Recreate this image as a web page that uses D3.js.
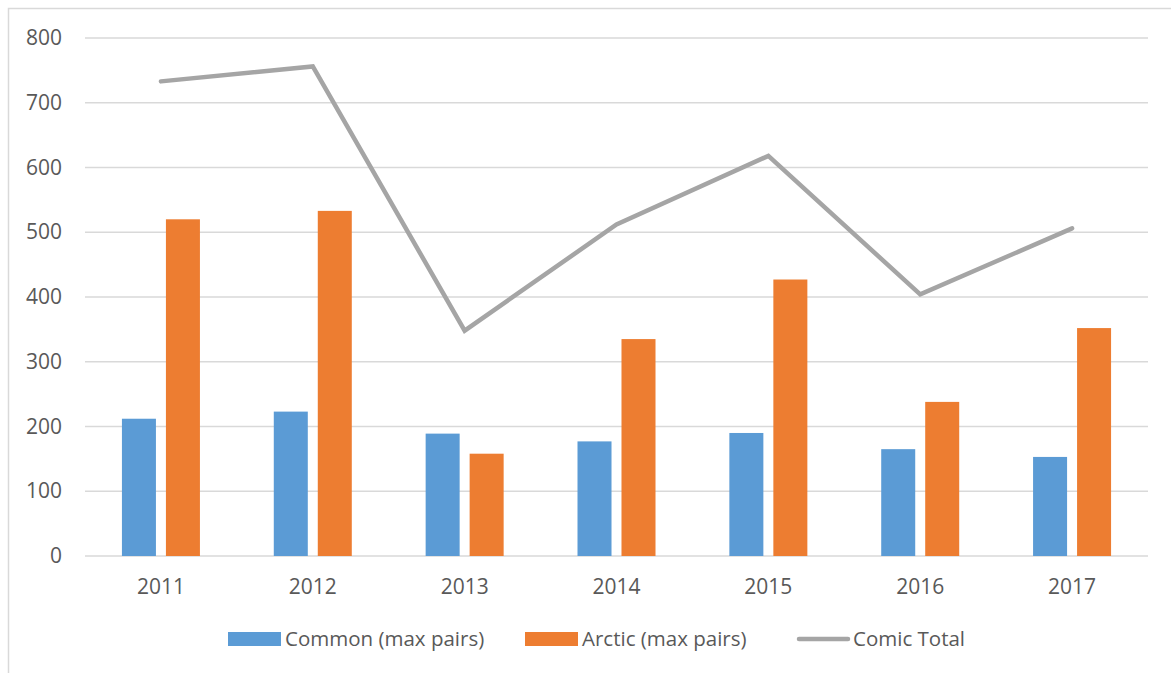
<!DOCTYPE html>
<html>
<head>
<meta charset="utf-8">
<script src="https://cdn.jsdelivr.net/npm/d3@7/dist/d3.min.js"></script>
<style>
  html, body { margin: 0; padding: 0; background: #fff; }
  svg { display: block; }
  text { font-family: "Open Sans", "Noto Sans", sans-serif; fill: #595959; }
</style>
</head>
<body>
<svg id="chart" width="1171" height="673"></svg>
<script>
// Yearly counts of breeding pairs
const years = ["2011", "2012", "2013", "2014", "2015", "2016", "2017"];
const commonPairs = [212, 223, 189, 177, 190, 165, 153];
const arcticPairs = [520, 533, 158, 335, 427, 238, 352];
const comicTotal = [733, 756, 348, 512, 618, 404, 506];
const yTicks = [0, 100, 200, 300, 400, 500, 600, 700, 800];

const seriesNames = ["Common (max pairs)", "Arctic (max pairs)", "Comic Total"];
const colors = { common: "#5b9bd5", arctic: "#ed7d31", total: "#a5a5a5" };

const svg = d3.select("#chart");
const plot = { left: 85, right: 1148, top: 38, bottom: 556 };

// outer chart frame
svg.append("rect")
  .attr("x", 8.5).attr("y", 8.5)
  .attr("width", 1300).attr("height", 800)
  .attr("fill", "none").attr("stroke", "#d9d9d9").attr("stroke-width", 1.5);

const y = d3.scaleLinear().domain([0, 800]).range([plot.bottom, plot.top]);
const x0 = d3.scaleBand().domain(years).range([plot.left, plot.right]).padding(0);
const groupW = 78;
const x1 = d3.scaleBand().domain(["common", "arctic"]).range([0, groupW]).paddingInner(0.227);
const groupOffset = (x0.bandwidth() - groupW) / 2;

// horizontal gridlines
svg.append("g")
  .selectAll("line")
  .data(yTicks)
  .join("line")
  .attr("x1", plot.left).attr("x2", plot.right)
  .attr("y1", d => y(d)).attr("y2", d => y(d))
  .attr("stroke", "#d9d9d9").attr("stroke-width", 1.5);

// y-axis labels
const yAxis = d3.axisLeft(y).tickValues(yTicks).tickSize(0).tickPadding(0);
const gy = svg.append("g").attr("transform", "translate(62,0)").call(yAxis);
gy.select(".domain").remove();
gy.attr("font-size", 21).attr("font-family", null);
gy.selectAll("text").attr("fill", "#595959");

// x-axis labels
const xAxis = d3.axisBottom(x0).tickSize(0).tickPadding(0);
const gx = svg.append("g").attr("transform", `translate(0,${plot.bottom})`).call(xAxis);
gx.select(".domain").remove();
gx.attr("font-size", 21).attr("font-family", null);
gx.selectAll("text")
  .attr("y", 0).attr("dy", 38)
  .attr("fill", "#595959");

// grouped bars
const rows = years.map((yr, i) => ({ year: yr, common: commonPairs[i], arctic: arcticPairs[i] }));
const groups = svg.append("g")
  .selectAll("g")
  .data(rows)
  .join("g")
  .attr("transform", d => `translate(${x0(d.year) + groupOffset},0)`);

groups.selectAll("rect")
  .data(d => ["common", "arctic"].map(k => ({ key: k, value: d[k] })))
  .join("rect")
  .attr("x", d => x1(d.key))
  .attr("width", x1.bandwidth())
  .attr("y", d => y(d.value))
  .attr("height", d => y(0) - y(d.value))
  .attr("fill", d => colors[d.key]);

// total line
const line = d3.line()
  .x((d, i) => x0(years[i]) + x0.bandwidth() / 2)
  .y(d => y(d));
svg.append("path")
  .datum(comicTotal)
  .attr("d", line)
  .attr("fill", "none")
  .attr("stroke", colors.total)
  .attr("stroke-width", 4.5)
  .attr("stroke-linejoin", "miter")
  .attr("stroke-linecap", "round");

// legend
const legend = svg.append("g");
const legendItems = [
  { name: seriesNames[0], type: "rect", color: colors.common, x: 228, tx: 285 },
  { name: seriesNames[1], type: "rect", color: colors.arctic, x: 525, tx: 582 },
  { name: seriesNames[2], type: "line", color: colors.total, x: 799, tx: 853 }
];
legendItems.forEach(it => {
  if (it.type === "rect") {
    legend.append("rect")
      .attr("x", it.x).attr("y", 632)
      .attr("width", 53).attr("height", 14)
      .attr("fill", it.color);
  } else {
    legend.append("line")
      .attr("x1", it.x).attr("x2", it.x + 49)
      .attr("y1", 639).attr("y2", 639)
      .attr("stroke", it.color).attr("stroke-width", 4.5)
      .attr("stroke-linecap", "round");
  }
  legend.append("text")
    .attr("x", it.tx).attr("y", 646)
    .attr("font-size", 20.5)
    .text(it.name);
});
</script>
</body>
</html>
